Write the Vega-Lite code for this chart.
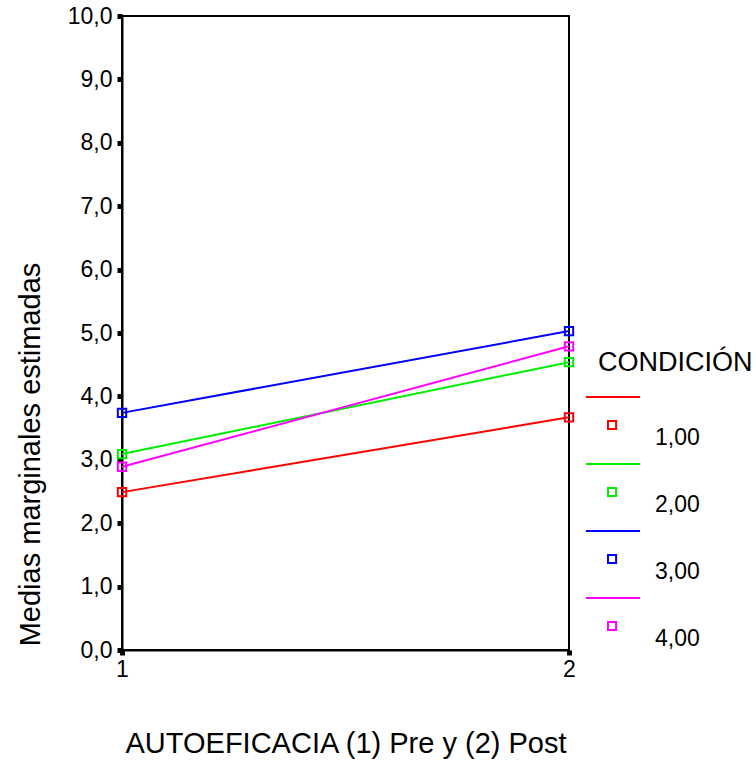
{
  "$schema": "https://vega.github.io/schema/vega-lite/v6.json",
  "width": 447,
  "height": 634,
  "autosize": "none",
  "padding": {"left": 122, "top": 16, "right": 187, "bottom": 113},
  "background": "white",
  "config": {
    "locale": {"number": {"decimal": ",", "thousands": ".", "grouping": [3], "currency": ["", " €"]}},
    "font": "Liberation Sans",
    "view": {"stroke": "black", "strokeWidth": 2},
    "axis": {"grid": false, "domainColor": "black", "domainWidth": 2, "tickColor": "black", "labelColor": "black", "titleColor": "black", "labelFont": "Liberation Sans", "titleFont": "Liberation Sans", "titleFontWeight": "normal"}
  },
  "data": {
    "values": [
      {"momento": 1, "condicion": "1,00", "media": 2.49},
      {"momento": 2, "condicion": "1,00", "media": 3.67},
      {"momento": 1, "condicion": "2,00", "media": 3.09},
      {"momento": 2, "condicion": "2,00", "media": 4.54},
      {"momento": 1, "condicion": "3,00", "media": 3.74},
      {"momento": 2, "condicion": "3,00", "media": 5.03},
      {"momento": 1, "condicion": "4,00", "media": 2.89},
      {"momento": 2, "condicion": "4,00", "media": 4.79}
    ]
  },
  "encoding": {
    "x": {
      "field": "momento", "type": "quantitative",
      "scale": {"domain": [1, 2], "nice": false, "zero": false},
      "axis": {"values": [1, 2], "format": "d", "title": "AUTOEFICACIA (1) Pre y (2) Post", "labelFontSize": 23, "titleFontSize": 29, "tickSize": 5, "tickWidth": 5, "labelPadding": 3, "labelFlush": false, "titlePadding": 48}
    },
    "y": {
      "field": "media", "type": "quantitative",
      "scale": {"domain": [0, 10], "nice": false},
      "axis": {"values": [0,1,2,3,4,5,6,7,8,9,10], "format": ".1f", "title": "Medias marginales estimadas", "labelFontSize": 23, "titleFontSize": 29, "tickSize": 5, "tickWidth": 5, "labelPadding": 5, "titleX": -92, "titleY": 438, "titleAngle": -90, "titleAlign": "center", "titleBaseline": "middle"}
    },
    "color": {
      "field": "condicion", "type": "nominal",
      "scale": {"domain": ["1,00", "2,00", "3,00", "4,00"], "range": ["#ff0000", "#00ee00", "#0000ff", "#ff00ff"]},
      "legend": {
        "title": "CONDICIÓN", "orient": "none", "legendX": 476, "legendY": 334,
        "titleFontSize": 27, "titleFontWeight": "normal", "titleColor": "black", "titlePadding": 15, "titleLimit": 250,
        "labelFontSize": 23, "labelColor": "black", "labelOffset": -35,
        "symbolType": "M-1.29,-0.91L-0.09,-0.91M-0.8,-0.38L-0.62,-0.38L-0.62,-0.2L-0.8,-0.2Z",
        "symbolSize": 8100, "symbolStrokeWidth": 2, "symbolFillColor": "transparent", "rowPadding": 9
      }
    }
  },
  "layer": [
    {"mark": {"type": "line", "strokeWidth": 2}},
    {"mark": {"type": "point", "shape": "square", "filled": false, "size": 70, "strokeWidth": 2, "opacity": 1}}
  ]
}
